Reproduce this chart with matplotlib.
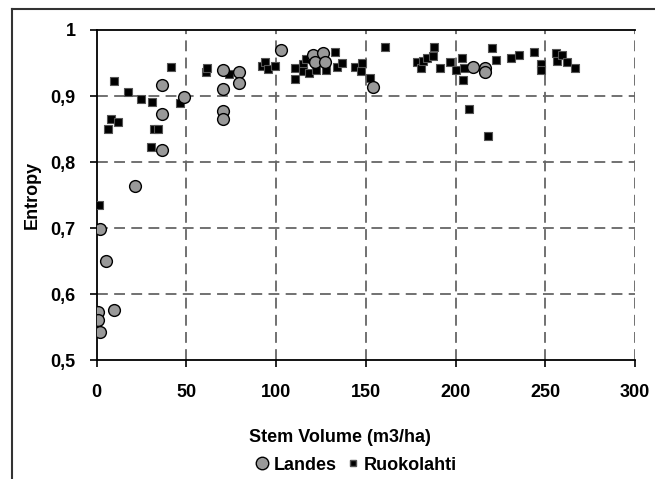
import matplotlib
matplotlib.use("Agg")
import matplotlib.pyplot as plt
from matplotlib.lines import Line2D
from matplotlib.ticker import FuncFormatter

plt.rcParams['font.family'] = ['Liberation Sans', 'DejaVu Sans']
plt.rcParams['font.weight'] = 'bold'

# Landes (circles)
landes_x = [0.7, 0.7, 1.8, 1.8, 5.0, 9.5, 21.5, 36.2, 36.2, 36.2, 48.8,
            70.4, 70.4, 70.4, 70.4, 79.5, 79.5, 102.5,
            120.7, 121.7, 126.3, 127.2, 154.2, 209.7, 216.4, 216.4]
landes_y = [0.572, 0.560, 0.542, 0.698, 0.650, 0.576, 0.763, 0.917, 0.873, 0.818, 0.898,
            0.939, 0.910, 0.878, 0.865, 0.937, 0.920, 0.970,
            0.962, 0.952, 0.965, 0.952, 0.914, 0.944, 0.943, 0.937]

# Ruokolahti (squares)
ruoko_x = [1.5, 6.3, 8.0, 9.6, 11.7, 17.6, 24.7, 30.1, 30.6, 31.9, 34.0, 41.4, 46.6,
           60.9, 61.6, 71.1, 73.9, 92.0, 93.8, 95.3, 99.4,
           110.5, 110.5, 115.2, 115.2, 116.7, 118.3, 120.2, 122.2, 127.6,
           132.8, 134.1, 136.5, 144.0, 147.1, 147.7, 152.3, 160.8,
           178.7, 180.9, 182.0, 184.3, 187.6, 188.0, 191.3, 196.8, 200.5,
           203.4, 204.3, 204.6, 207.3, 217.9, 220.5, 222.5, 230.9, 235.5,
           243.9, 247.6, 247.6, 255.8, 256.7, 259.2, 262.3, 266.6]
ruoko_y = [0.735, 0.850, 0.865, 0.923, 0.860, 0.906, 0.895, 0.823, 0.891, 0.850, 0.850, 0.944, 0.889,
           0.936, 0.943, 0.938, 0.933, 0.945, 0.952, 0.941, 0.945,
           0.943, 0.926, 0.948, 0.938, 0.956, 0.935, 0.962, 0.939, 0.939,
           0.966, 0.944, 0.950, 0.944, 0.938, 0.950, 0.928, 0.974,
           0.951, 0.942, 0.953, 0.958, 0.960, 0.975, 0.943, 0.952, 0.940,
           0.957, 0.924, 0.943, 0.881, 0.839, 0.972, 0.954, 0.957, 0.962,
           0.966, 0.948, 0.939, 0.965, 0.953, 0.962, 0.952, 0.943]

x_ticks = [0, 50, 100, 150, 200, 250, 300]
y_ticks = [0.5, 0.6, 0.7, 0.8, 0.9, 1.0]

fig = plt.figure(figsize=(6.55, 4.79), dpi=100)
# outer chart border (left and top)
fig.add_artist(Line2D([12/655, 12/655], [0, 1 - 9/479], color='#333333', lw=1.5))
fig.add_artist(Line2D([12/655, 1], [1 - 9/479, 1 - 9/479], color='#333333', lw=1.5))

ax = fig.add_axes([96.7/655, 1 - 360/479, (635 - 96.7)/655, (360 - 30)/479])
ax.set_xlim(0, 300)
ax.set_ylim(0.5, 1.0)

for xv in x_ticks[1:]:
    ax.axvline(xv, color='#666666', lw=1.3, ls=(0, (6, 3.5)), zorder=1)
for yv in y_ticks[1:-1]:
    ax.axhline(yv, color='#666666', lw=1.3, ls=(0, (6, 3.5)), zorder=1)

ax.scatter(ruoko_x, ruoko_y, marker='s', s=27, facecolor='black', edgecolor='#555555',
           linewidths=0.8, zorder=3, label='Ruokolahti')
ax.scatter(landes_x, landes_y, marker='o', s=72, facecolor='#999999', edgecolor='black',
           linewidths=1.0, zorder=4, label='Landes')

ax.spines['right'].set_visible(False)
ax.spines['top'].set_color('black')
ax.spines['top'].set_linewidth(1.3)
ax.spines['left'].set_linewidth(1.3)
ax.spines['bottom'].set_linewidth(1.3)

ax.set_xticks(x_ticks)
ax.set_yticks(y_ticks)
ax.yaxis.set_major_formatter(FuncFormatter(lambda v, p: ('%g' % round(v, 1)).replace('.', ',')))
ax.tick_params(axis='both', direction='out', length=5, width=1.2, labelsize=13)
ax.tick_params(axis='y', pad=10)
ax.tick_params(axis='x', pad=12)
for lab in ax.get_xticklabels() + ax.get_yticklabels():
    lab.set_fontweight('bold')

fig.text(340/655, 1 - 437/479, 'Stem Volume (m3/ha)', fontsize=13, fontweight='bold',
         ha='center', va='center')
fig.text(32/655, 1 - 195/479, 'Entropy', fontsize=13, fontweight='bold',
         ha='center', va='center', rotation=90)

handles = [Line2D([], [], marker='o', ls='none', markersize=9, markerfacecolor='#999999',
                  markeredgecolor='black', markeredgewidth=1.0),
           Line2D([], [], marker='s', ls='none', markersize=5, markerfacecolor='black',
                  markeredgecolor='#555555')]
fig.legend(handles, ['Landes', 'Ruokolahti'], loc='center', bbox_to_anchor=(355/655, 1 - 465/479),
           ncol=2, frameon=False, prop={'size': 13, 'weight': 'bold'},
           handletextpad=0.1, columnspacing=0.4, handlelength=1.0)

fig.savefig('out.png', dpi=100)
